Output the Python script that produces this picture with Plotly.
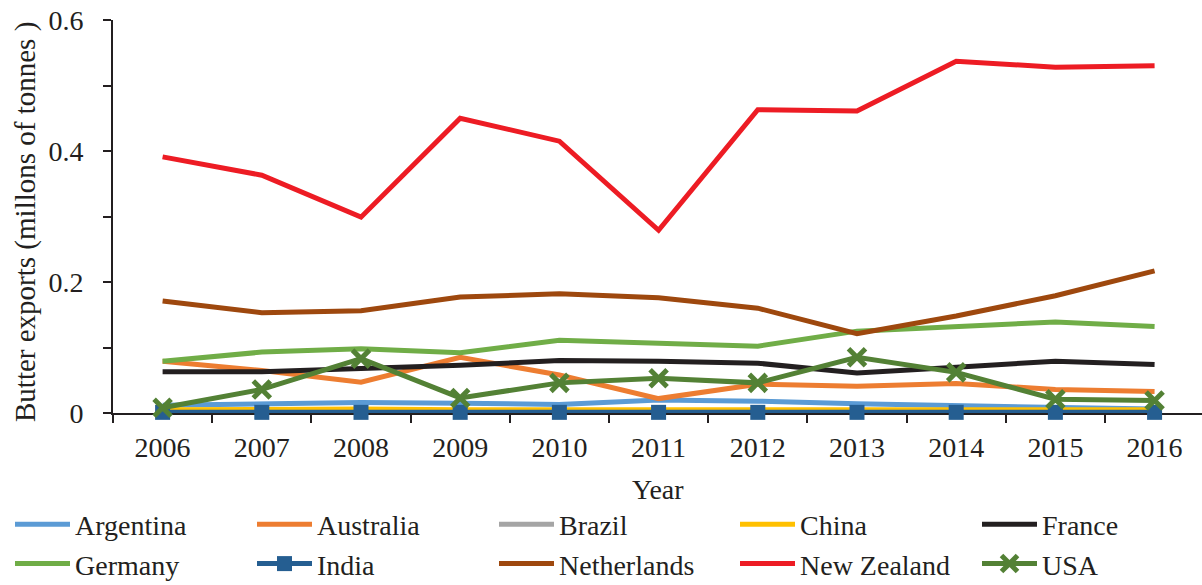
import plotly.graph_objects as go

years = [2006, 2007, 2008, 2009, 2010, 2011, 2012, 2013, 2014, 2015, 2016]

argentina = [0.012, 0.014, 0.016, 0.015, 0.013, 0.020, 0.018, 0.014, 0.011, 0.009, 0.006]
australia = [0.079, 0.065, 0.047, 0.085, 0.058, 0.022, 0.044, 0.041, 0.045, 0.036, 0.033]
brazil = [0.002, 0.002, 0.002, 0.002, 0.002, 0.002, 0.002, 0.002, 0.002, 0.002, 0.002]
china = [0.005, 0.006, 0.006, 0.005, 0.005, 0.005, 0.005, 0.005, 0.005, 0.005, 0.005]
france = [0.063, 0.063, 0.068, 0.073, 0.080, 0.079, 0.076, 0.061, 0.070, 0.079, 0.074]
germany = [0.079, 0.093, 0.098, 0.092, 0.111, 0.107, 0.102, 0.125, 0.132, 0.139, 0.132]
india = [0.001, 0.001, 0.001, 0.001, 0.001, 0.001, 0.001, 0.001, 0.001, 0.001, 0.001]
netherlands = [0.171, 0.153, 0.156, 0.177, 0.182, 0.176, 0.160, 0.121, 0.148, 0.179, 0.217]
new_zealand = [0.391, 0.363, 0.299, 0.450, 0.415, 0.279, 0.463, 0.461, 0.537, 0.528, 0.530]
usa = [0.008, 0.036, 0.083, 0.023, 0.046, 0.053, 0.046, 0.085, 0.062, 0.021, 0.019]

# (name, values, colour, marker, legend column)
series = [
    ("Argentina", argentina, "#5B9BD5", None, "legend"),
    ("Australia", australia, "#ED7D31", None, "legend2"),
    ("Brazil", brazil, "#A5A5A5", None, "legend3"),
    ("China", china, "#FFC000", None, "legend4"),
    ("France", france, "#231F20", None, "legend5"),
    ("Germany", germany, "#70AD47", None, "legend"),
    ("India", india, "#255E91", "square", "legend2"),
    ("Netherlands", netherlands, "#9E480E", None, "legend3"),
    ("New Zealand", new_zealand, "#ED1C24", None, "legend4"),
    ("USA", usa, "#538135", "x-thin", "legend5"),
]

W, H = 1202, 585
ML, MR, MT, MB = 113, 0, 20, 172
PW, PH = W - ML - MR, H - MT - MB
FONT = "Liberation Serif, Times New Roman, serif"
TXT = "#231F20"
fig = go.Figure()
for name, vals, color, sym, leg in series:
    kw = dict(mode="lines")
    if sym == "square":
        kw = dict(mode="lines+markers",
                  marker=dict(symbol="square", size=15, color=color))
    elif sym == "x-thin":
        kw = dict(mode="lines+markers",
                  marker=dict(symbol="x-thin", size=17, color=color,
                              line=dict(width=5, color=color)))
    fig.add_trace(go.Scatter(x=years, y=vals, name=name, legend=leg,
                             legendgroup=name, cliponaxis=False,
                             line=dict(color=color, width=5), **kw))

# legend block: five columns of two rows below the x axis
column_left_px = [10, 252, 494, 735, 977]
legend_names = ["legend", "legend2", "legend3", "legend4", "legend5"]
legends = {}
for key, left in zip(legend_names, column_left_px):
    legends[key] = dict(orientation="v", xref="container", yref="container",
                        x=left / W, y=1 - 544 / H,
                        xanchor="left", yanchor="middle",
                        itemwidth=55, tracegroupgap=4,
                        font=dict(family=FONT, size=28, color=TXT),
                        bgcolor="rgba(0,0,0,0)", traceorder="normal")

fig.update_layout(
    width=W, height=H,
    margin=dict(l=ML, r=MR, t=MT, b=MB, autoexpand=False),
    plot_bgcolor="white", paper_bgcolor="white",
    font=dict(family=FONT, size=28, color=TXT),
    showlegend=True,
    **legends,
    xaxis=dict(
        range=[2005.5, 2016.478], showgrid=False, zeroline=False,
        showline=True, linecolor=TXT, linewidth=2, layer="below traces",
        tickmode="array", tickvals=years, ticktext=[str(y) for y in years],
        ticks="outside", ticklen=8, tickcolor="rgba(0,0,0,0)",
        minor=dict(tick0=2005.5, dtick=1, ticks="outside", ticklen=8,
                   tickcolor=TXT, tickwidth=2, showgrid=False),
    ),
    yaxis=dict(
        range=[0, 0.6], showgrid=False, zeroline=False,
        showline=True, linecolor=TXT, linewidth=2, layer="below traces",
        tickmode="array", tickvals=[0, 0.2, 0.4, 0.6],
        ticktext=["0", "0.2", "0.4", "0.6"],
        ticks="outside", ticklen=8, tickwidth=2, tickcolor=TXT,
        ticklabelstandoff=14,
        minor=dict(tickvals=[0.1, 0.3, 0.5], ticks="outside", ticklen=8,
                   tickcolor=TXT, tickwidth=2, showgrid=False),
    ),
    annotations=[
        # axis titles placed in paper units relative to the plot area
        dict(text="Year", xref="paper", yref="paper",
             x=0.5, y=-(490 - (H - MB)) / PH, xanchor="center",
             yanchor="middle", showarrow=False,
             font=dict(family=FONT, size=28, color=TXT)),
        dict(text="Butter exports (millons of tonnes )", xref="paper",
             yref="paper", x=(25 - ML) / PW, y=(413 - 222) / PH,
             xanchor="center", yanchor="middle", textangle=-90,
             showarrow=False, font=dict(family=FONT, size=29, color=TXT)),
    ],
)

fig.write_html("out.html")
